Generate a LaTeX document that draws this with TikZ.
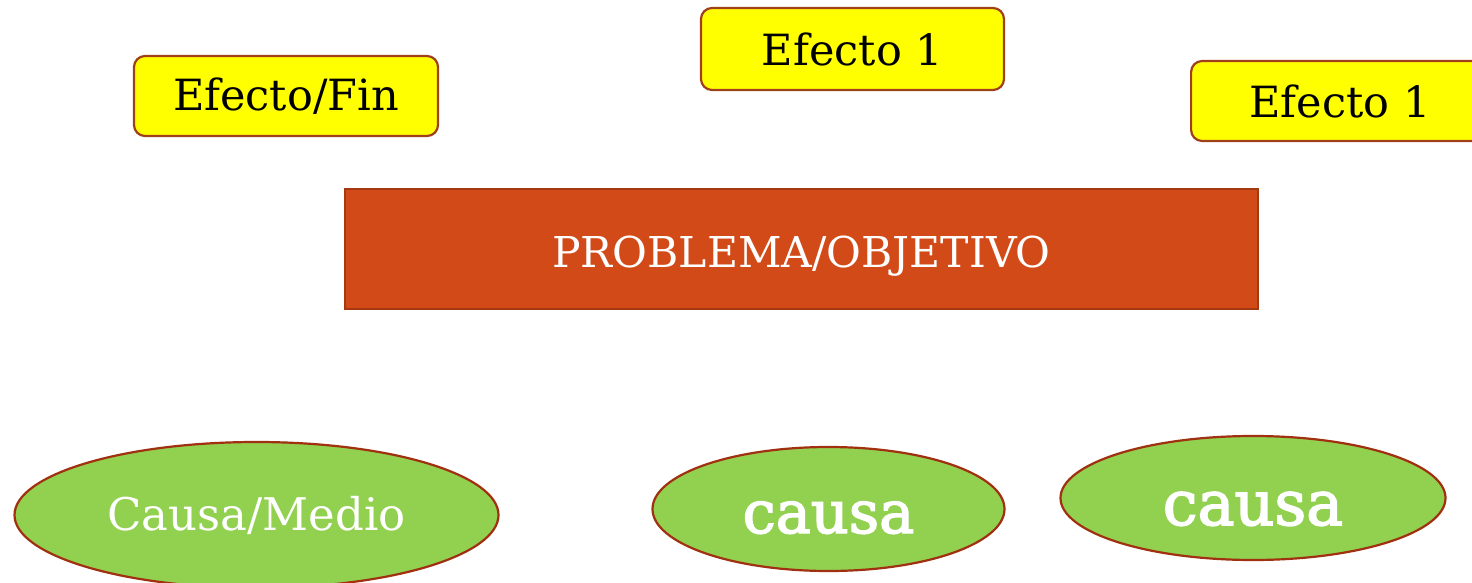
\documentclass[tikz,border=0pt]{standalone}
\usepackage{fontspec}
\setmainfont{DejaVu Serif}
\newfontfamily\causafont[FakeBold=2.5]{DejaVu Serif}
\usetikzlibrary{shapes.geometric}
\definecolor{efyellow}{HTML}{FFFF00}
\definecolor{efborder}{HTML}{A0401A}
\definecolor{probfill}{HTML}{D24A18}
\definecolor{probborder}{HTML}{A33A12}
\definecolor{causagreen}{HTML}{92D050}
\definecolor{causaborder}{HTML}{A0300F}
\tikzset{
  efbox/.style={draw=efborder, line width=2.2pt, fill=efyellow, rounded corners=11pt, text=black, inner sep=0pt, font=\fontsize{43}{48}\selectfont},
  probbox/.style={draw=probborder, line width=2.2pt, fill=probfill, text=white, inner sep=0pt, font=\fontsize{42.5}{48}\selectfont},
  causashape/.style={ellipse, draw=causaborder, line width=2.2pt, fill=causagreen, text=white, inner sep=0pt}
}
\begin{document}
\begin{tikzpicture}[x=1pt,y=-1pt]
\useasboundingbox (0,0) rectangle (1472,583);
\clip (0,0) rectangle (1472,583);
% effect boxes
\node[efbox, minimum width=304pt, minimum height=80pt] (ef1) at (286,96) {Efecto/Fin};
\node[efbox, minimum width=303pt, minimum height=82pt] (ef2) at (852.5,49) {Efecto 1};
\node[efbox, minimum width=304pt, minimum height=80pt, anchor=west] (ef3) at (1190,101) {};
\node[font=\fontsize{43}{48}\selectfont] (ef3t) at (1340,101) {Efecto 1};
% problem box
\node[probbox, minimum width=913pt, minimum height=120pt, text height=36pt, text depth=0pt] (prob) at (801.5,249) {PROBLEMA/OBJETIVO};
% cause ellipses
\node[causashape, minimum width=484pt, minimum height=146pt, font=\fontsize{45}{50}\selectfont] (c1) at (256.5,515) {Causa/Medio};
\node[causashape, minimum width=352pt, minimum height=124pt, text height=48pt, text depth=0pt, font=\causafont\fontsize{59}{64}\selectfont] (c2) at (828.5,509) {causa};
\node[causashape, minimum width=385pt, minimum height=124pt, text height=54pt, text depth=0pt, font=\causafont\fontsize{62}{66}\selectfont] (c3) at (1253,498) {causa};
\end{tikzpicture}
\end{document}
